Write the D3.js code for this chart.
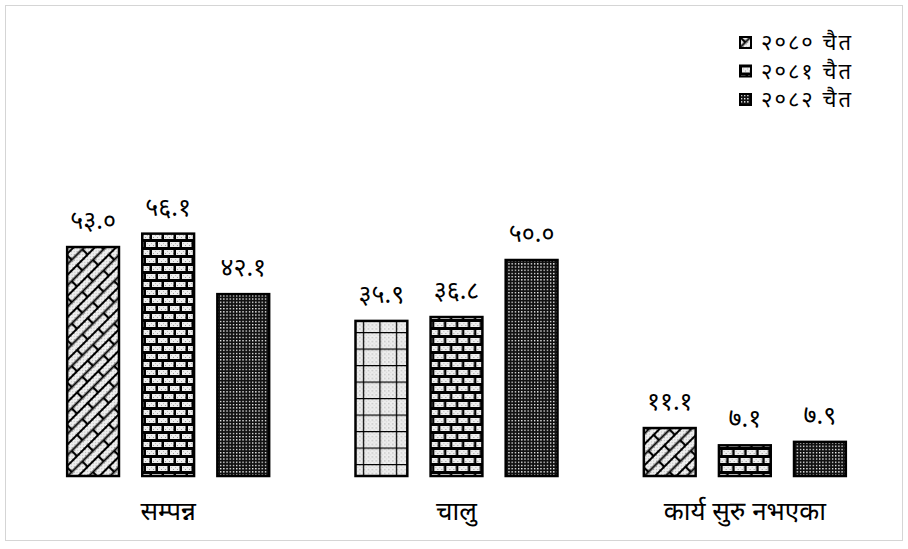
<!DOCTYPE html>
<html>
<head>
<meta charset="utf-8">
<script src="https://cdn.jsdelivr.net/npm/d3@7"></script>
<style>
  body { margin: 0; background: #fff; }
  svg { font-family: 'Noto Sans Devanagari', 'Lohit Devanagari', 'Noto Sans', sans-serif; }
</style>
</head>
<body>
<svg id="chart"></svg>
<script>
const categories = ['सम्पन्न', 'चालु', 'कार्य सुरु नभएका']
const seriesNames = ['२०८० चैत', '२०८१ चैत', '२०८२ चैत']
const values2080 = [53.0, 35.9, 11.1]
const values2081 = [56.1, 36.8, 7.1]
const values2082 = [42.1, 50.0, 7.9]
const seriesValues = [values2080, values2081, values2082]

const width = 908; const height = 549
const svg = d3.select('#chart').attr('width', width).attr('height', height)
  .attr('viewBox', `0 0 ${width} ${height}`)

const toNepali = (s) => s.replace(/[0-9]/g, (c) => '०१२३४५६७८९'[+c])

// patterns
const defs = svg.append('defs')

// stipple fill used inside the light parts
const stip = defs.append('pattern').attr('id', 'stip').attr('patternUnits', 'userSpaceOnUse')
  .attr('width', 4).attr('height', 4)
stip.append('rect').attr('width', 4).attr('height', 4).attr('fill', '#eee')
stip.append('rect').attr('x', 1).attr('y', 1).attr('width', 1).attr('height', 1).attr('fill', '#999')
stip.append('rect').attr('x', 3).attr('y', 3).attr('width', 1).attr('height', 1).attr('fill', '#bbb')

const weave = defs.append('pattern').attr('id', 'weave').attr('patternUnits', 'userSpaceOnUse')
  .attr('width', 30).attr('height', 15).attr('patternTransform', 'rotate(-45)')
weave.append('rect').attr('width', 30).attr('height', 15).attr('fill', 'url(#stip)')
weave.append('path').attr('stroke', '#000').attr('stroke-width', 2.2).attr('fill', 'none')
  .attr('d', 'M0,0H30M0,7.5H30M0,15H30M0,0V7.5M15,7.5V15M30,0V7.5')

const brick = defs.append('pattern').attr('id', 'brick').attr('patternUnits', 'userSpaceOnUse')
  .attr('width', 24).attr('height', 16)
brick.append('rect').attr('width', 24).attr('height', 16).attr('fill', '#000')
;[[2, 2], [14, 2], [-4, 10], [8, 10], [20, 10]].forEach(([x, y]) => {
  brick.append('rect').attr('x', x).attr('y', y).attr('width', 9.5).attr('height', 5).attr('fill', 'url(#stip)')
})

const dots = defs.append('pattern').attr('id', 'dots').attr('patternUnits', 'userSpaceOnUse')
  .attr('width', 3.2).attr('height', 3.2)
dots.append('rect').attr('width', 3.2).attr('height', 3.2).attr('fill', '#111')
dots.append('rect').attr('x', 0.8).attr('y', 0.8).attr('width', 1.3).attr('height', 1.3).attr('fill', '#fff')

const grid = defs.append('pattern').attr('id', 'grid').attr('patternUnits', 'userSpaceOnUse')
  .attr('width', 16.5).attr('height', 16.5).attr('x', 1).attr('y', 2)
grid.append('rect').attr('width', 16.5).attr('height', 16.5).attr('fill', 'url(#stip)')
grid.append('path').attr('stroke', '#000').attr('stroke-width', 2.5).attr('fill', 'none')
  .attr('d', 'M0,0H16.5M0,0V16.5')

const seriesFill = ['url(#weave)', 'url(#brick)', 'url(#dots)']
// the middle group's first bar uses a grid instead of the weave
const fillFor = (si, ci) => (si === 0 && ci === 1) ? 'url(#grid)' : seriesFill[si]

// frame
svg.append('rect').attr('x', 5.5).attr('y', 5.5).attr('width', 897).attr('height', 535)
  .attr('fill', 'none').attr('stroke', '#aaa').attr('stroke-dasharray', '1,1')

const x0 = d3.scaleBand().domain(categories).range([24, 889])
const x1 = d3.scaleBand().domain(d3.range(seriesNames.length)).range([x0.bandwidth() / 2 - 101, x0.bandwidth() / 2 + 101])
  .paddingInner(0.31)
const y = d3.scaleLinear().domain([0, 60]).range([476, 476 - 60 * 4.32])

const groups = svg.selectAll('g.group').data(categories).enter()
  .append('g').attr('class', 'group')
  .attr('transform', (d) => `translate(${x0(d)},0)`)

groups.selectAll('rect').data((d, ci) => seriesValues.map((vals, si) => ({ si, ci, v: vals[ci] })))
  .enter().append('rect')
  .attr('x', (d) => x1(d.si))
  .attr('y', (d) => y(d.v))
  .attr('width', x1.bandwidth())
  .attr('height', (d) => y(0) - y(d.v))
  .attr('fill', (d) => fillFor(d.si, d.ci))
  .attr('stroke', '#000').attr('stroke-width', 2.5)

groups.selectAll('text.val').data((d, ci) => seriesValues.map((vals, si) => ({ si, ci, v: vals[ci] })))
  .enter().append('text').attr('class', 'val')
  .attr('x', (d) => x1(d.si) + x1.bandwidth() / 2)
  .attr('y', (d) => y(d.v) - 18)
  .attr('text-anchor', 'middle')
  .attr('font-size', 25)
  .text((d) => toNepali(d.v.toFixed(1)))

groups.append('text')
  .attr('x', x0.bandwidth() / 2).attr('y', 520)
  .attr('text-anchor', 'middle').attr('font-size', 26)
  .text((d) => d)

// legend
const legend = svg.append('g').attr('transform', 'translate(740,37)')
const items = legend.selectAll('g').data(seriesNames).enter()
  .append('g').attr('transform', (d, i) => `translate(0,${i * 28.5})`)
items.append('rect').attr('width', 11).attr('height', 11)
  .attr('fill', (d, i) => seriesFill[i]).attr('stroke', '#000').attr('stroke-width', 2)
items.append('text').attr('x', 21).attr('y', 13)
  .attr('font-size', 22).attr('letter-spacing', 2)
  .text((d) => d)
</script>
</body>
</html>
